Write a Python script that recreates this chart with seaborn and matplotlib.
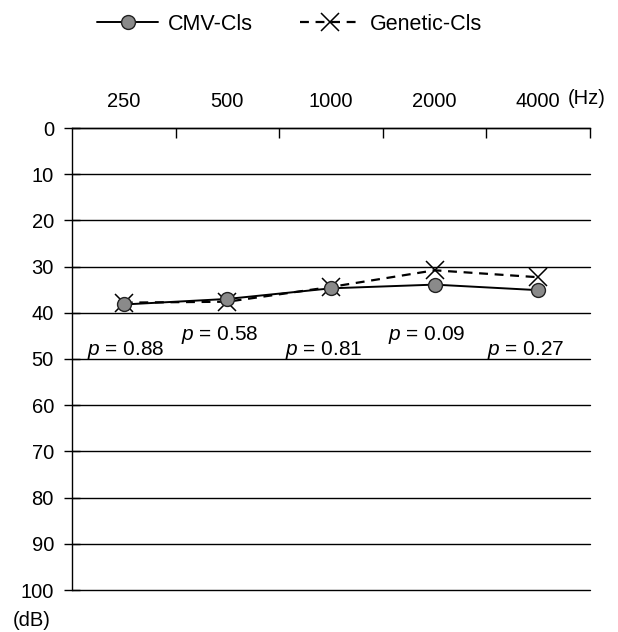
import matplotlib
matplotlib.use("Agg")
import matplotlib.pyplot as plt
import seaborn as sns
import pandas as pd
import numpy as np

freqs = ["250", "500", "1000", "2000", "4000"]
cmv = [38.2, 37.0, 34.7, 33.9, 35.1]
genetic = [37.8, 37.6, 34.4, 30.8, 32.3]
p_labels = ["0.88", "0.58", "0.81", "0.09", "0.27"]

sns.set_theme(style="white")
plt.rcParams["font.family"] = ["Liberation Sans", "DejaVu Sans"]
plt.rcParams["mathtext.fontset"] = "custom"
plt.rcParams["mathtext.it"] = "Liberation Sans:italic"
plt.rcParams["mathtext.rm"] = "Liberation Sans"
plt.rcParams["text.color"] = "black"
plt.rcParams["xtick.color"] = "black"
plt.rcParams["ytick.color"] = "black"

FS = 14.5

df = pd.DataFrame({"x": np.arange(len(freqs)), "cmv": cmv, "gen": genetic})

fig = plt.figure(figsize=(6.18, 6.32), dpi=100)
ax = fig.add_axes([72/618, 1-590/632, (590-72)/618, (590-128)/632])

sns.lineplot(data=df, x="x", y="gen", ax=ax, color="black", lw=1.6,
             linestyle=(0, (4, 3)), marker="x", markersize=13,
             markeredgewidth=1.1, markeredgecolor="black", label="Genetic-Cls", zorder=3)
sns.lineplot(data=df, x="x", y="cmv", ax=ax, color="black", lw=1.4,
             marker="o", markersize=10, markerfacecolor="#8a8a8a",
             markeredgecolor="#222222", markeredgewidth=1.0, label="CMV-Cls", zorder=4)

ax.set_xlim(-0.5, len(freqs) - 0.5)
ax.set_ylim(100, 0)
ax.set_yticks(np.arange(0, 101, 10))
ax.set_xticks(np.arange(len(freqs)))
ax.set_xticklabels(freqs)
ax.xaxis.tick_top()
ax.tick_params(axis="x", which="major", length=0, pad=12, labelsize=FS, labelcolor="black")
ax.set_xticks(np.arange(len(freqs)) + 0.5, minor=True)
ax.tick_params(axis="x", which="minor", direction="in", length=7, width=1, color="black", top=True, bottom=False)
ax.tick_params(axis="y", direction="inout", length=12, width=1, color="black", labelsize=FS,
               labelcolor="black", left=True, pad=7)
ax.set_xlabel("")
ax.set_ylabel("")
ax.yaxis.grid(True, color="black", lw=1)
for gl in ax.get_ygridlines():
    gl.set_clip_on(False)
ax.xaxis.grid(False)
for s in ["right", "bottom"]:
    ax.spines[s].set_visible(False)
for s in ["left", "top"]:
    ax.spines[s].set_color("black")
    ax.spines[s].set_linewidth(1)

# p-value annotations
p_offsets = [(0.02, 48.1), (0.93, 44.8), (1.93, 48.1), (2.92, 44.8), (3.88, 48.1)]
for (px, py), lab in zip(p_offsets, p_labels):
    ax.text(px, py, r"$p$ = " + lab, ha="center", va="center", fontsize=15, color="black")

fig.text(587/618, 1-98/632, "(Hz)", ha="center", va="center", fontsize=FS)
fig.text(32/618, 1-621/632, "(dB)", ha="center", va="center", fontsize=FS)

handles, labels = ax.get_legend_handles_labels()
order = [labels.index("CMV-Cls"), labels.index("Genetic-Cls")]
ax.get_legend().remove()
fig.legend([handles[i] for i in order], [labels[i] for i in order],
           loc="center left", bbox_to_anchor=(97/618, 1-24/632), ncol=2, frameon=False,
           fontsize=15.5, handlelength=2.85, handletextpad=0.42, columnspacing=2.2,
           borderpad=0, borderaxespad=0)

fig.savefig("out.png", dpi=100)
